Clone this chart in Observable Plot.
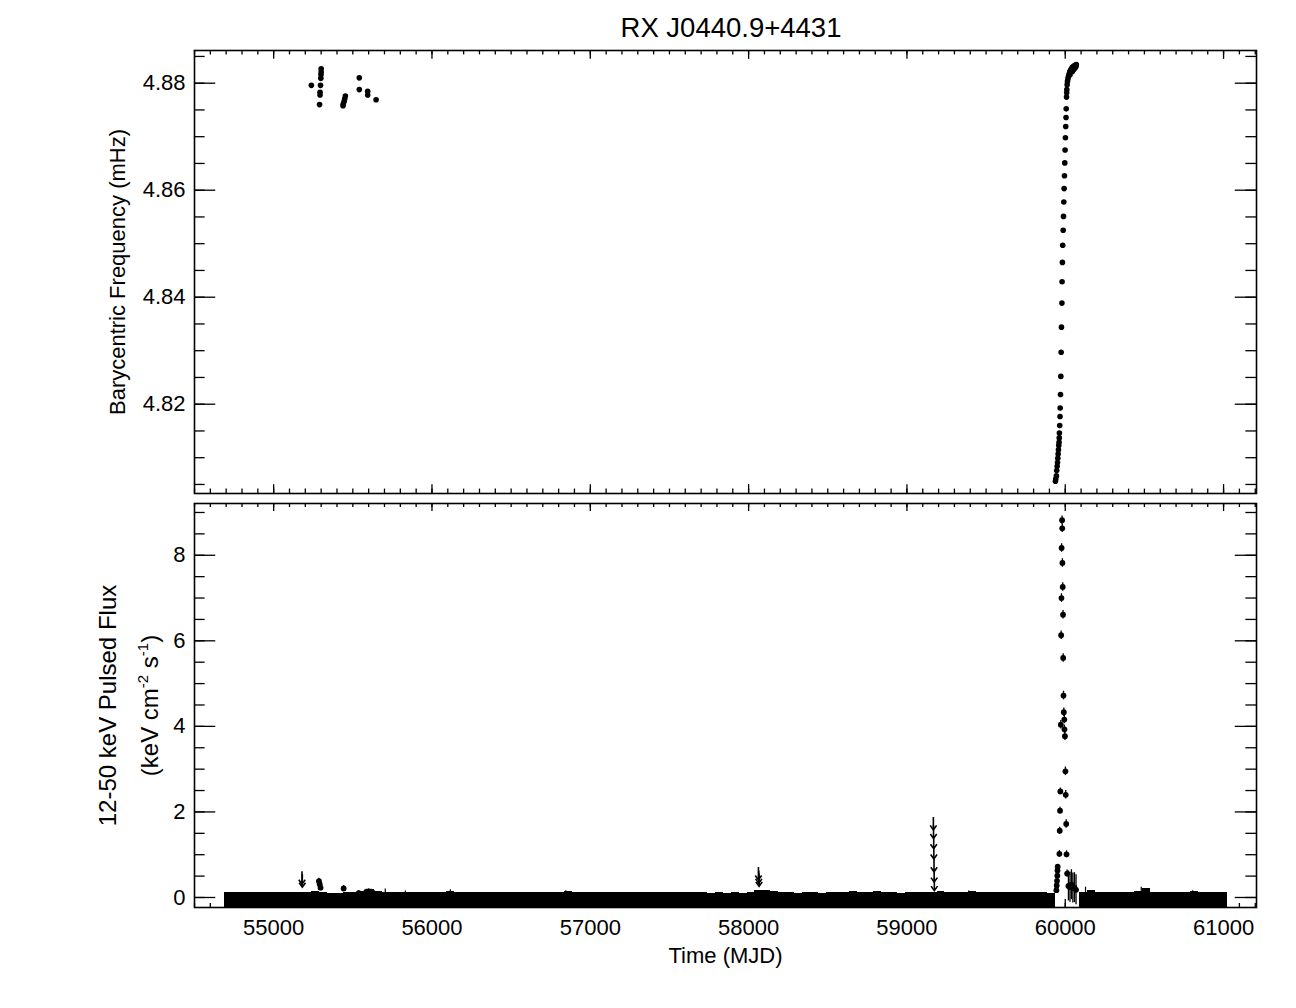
<!DOCTYPE html>
<html><head><meta charset="utf-8">
<script src="https://cdn.jsdelivr.net/npm/d3@7"></script>
<script src="https://cdn.jsdelivr.net/npm/@observablehq/plot@0.6"></script>
<style>
html,body{margin:0;padding:0;background:#fff;}
#wrap{position:relative;width:1296px;height:1008px;font-family:"Liberation Sans",Arial,Helvetica,sans-serif;}
#title{position:absolute;left:200px;width:1062px;top:28px;transform:translateY(-50%);text-align:center;font-size:27.5px;color:#000;line-height:1;}
#top,#bot{position:absolute;left:0;}
#top{top:48px;} #bot{top:501px;}
</style></head><body>
<div id="wrap"><div id="title">RX J0440.9+4431</div><div id="top"></div><div id="bot"></div></div>
<script>
// ---------- DATA ----------
const title = "RX J0440.9+4431";
const mjdTicks = [55000, 56000, 57000, 58000, 59000, 60000, 61000];
const freqTicks = [4.82, 4.84, 4.86, 4.88];
const fluxTicks = [0, 2, 4, 6, 8];

// Barycentric frequency (mHz)
const freqMJD = [55238, 55300, 55300, 55299, 55298, 55296, 55293, 55293, 55290,
  55453, 55449, 55445, 55440, 55438, 55541, 55541, 55594, 55594, 55647,
  59938, 59940, 59944, 59946, 59949, 59951, 59953, 59955, 59957, 59959,
  59961, 59962, 59963, 59965, 59967, 59968, 59970, 59972, 59974, 59976,
  59979, 59980, 59982, 59984, 59987, 59989, 59991, 59993, 59995, 59997,
  59999, 60001, 60003, 60005, 60006, 60008, 60009, 60010, 60012,
  60014, 60017, 60020, 60023, 60026, 60029, 60032, 60036, 60040, 60044,
  60048, 60052, 60056, 60060, 60065, 60070, 60030, 60045, 60055, 60062, 60068];
const freqMHz = [4.8796, 4.8827, 4.8821, 4.8816, 4.8809, 4.8796, 4.8783, 4.8778, 4.8760,
  4.8776, 4.8771, 4.8766, 4.8761, 4.8758, 4.8810, 4.8788, 4.8785, 4.8778, 4.8769,
  4.8056, 4.8060, 4.8066, 4.8076, 4.8084, 4.8091, 4.8099, 4.8107, 4.8115, 4.8123,
  4.8129, 4.8137, 4.8146, 4.8160, 4.8177, 4.8193, 4.8218, 4.8252, 4.8297, 4.8344,
  4.8389, 4.8429, 4.8465, 4.8497, 4.8525, 4.8551, 4.8578, 4.8603, 4.8627, 4.8651,
  4.8675, 4.8698, 4.8719, 4.8736, 4.8752, 4.8774, 4.8782, 4.8788, 4.8797,
  4.8803, 4.8808, 4.8812, 4.8815, 4.8818, 4.8821, 4.8823, 4.8825, 4.8827, 4.8829,
  4.8830, 4.8831, 4.8832, 4.8833, 4.8834, 4.8835, 4.8816, 4.8822, 4.8826, 4.8829, 4.8831];

// 12-50 keV pulsed flux detections
const fluxMJD = [55286, 55291, 55296, 55442, 55537, 55585, 55600, 55615, 55628,
  59944, 59946, 59948, 59950, 59951, 59952, 59963, 59965, 59967, 59969,
  59972, 59974, 59976, 59977, 59980, 59981, 59982, 59984, 59986, 59987,
  59989, 59991, 59994, 59995, 59998, 60001, 60003, 60006, 60008, 60012,
  60020, 60030, 60039, 60048, 60058, 60068];
const fluxVal = [0.38, 0.31, 0.23, 0.21, 0.10, 0.13, 0.14, 0.13, 0.11,
  0.17, 0.28, 0.39, 0.51, 0.63, 0.72, 1.02, 1.56, 2.03, 2.48,
  4.04, 6.13, 7.00, 8.17, 8.82, 8.63, 7.82, 7.26, 6.61, 5.60,
  4.72, 4.33, 4.16, 3.93, 3.77, 2.95, 2.40, 1.72, 1.01, 0.56,
  0.27, 0.24, 0.30, 0.22, 0.23, 0.18];
const fluxErr = [0.07, 0.07, 0.07, 0.07, 0.06, 0.06, 0.06, 0.06, 0.06,
  0.05, 0.05, 0.05, 0.05, 0.05, 0.05, 0.08, 0.08, 0.08, 0.08,
  0.10, 0.10, 0.10, 0.10, 0.10, 0.10, 0.10, 0.10, 0.10, 0.10,
  0.10, 0.10, 0.10, 0.10, 0.10, 0.10, 0.10, 0.10, 0.08, 0.08,
  0.35, 0.35, 0.35, 0.35, 0.35, 0.35];

// Upper limits (arrows)
const ulMJD = [55179, 55181, 58062, 58064, 58066, 59167, 59168, 59169, 59170, 59171, 59172, 59173];
const ulFlux = [0.60, 0.53, 0.70, 0.62, 0.55, 1.87, 1.67, 1.43, 1.19, 0.89, 0.65, 0.45];

// Dense daily band of non-detections: upper envelope per 50-day bin (null = no band)
const bandStart = d3.range(54690, 61000, 50);
const bandEnd = 61027;
const bandTop = [
  0.11,0.12,0.11,0.12,0.11,0.12,0.11,0.12,0.11,0.12, // 54690
  0.12,0.14,0.12,0.10,0.10,0.11,0.11,0.14,0.18,0.15, // 55190
  0.12,0.11,0.11,0.12,0.11,0.12,0.11,0.12,0.13,0.11, // 55690
  0.12,0.11,0.11,0.12,0.11,0.12,0.11,0.11,0.12,0.11, // 56190
  0.12,0.11,0.12,0.13,0.11,0.11,0.12,0.11,0.12,0.11, // 56690
  0.11,0.12,0.11,0.12,0.11,0.11,0.12,0.11,0.12,0.11, // 57190
  0.11,0.10,0.11,0.10,0.11,0.10,0.11,0.16,0.17,0.13, // 57690
  0.11,0.11,0.10,0.11,0.11,0.10,0.11,0.11,0.12,0.13, // 58190
  0.11,0.11,0.13,0.11,0.11,0.10,0.11,0.11,0.11,0.12, // 58690
  0.14,0.11,0.11,0.11,0.13,0.11,0.11,0.12,0.11,0.11, // 59190
  0.12,0.11,0.11,0.12,0.09,null,null,null,0.12,0.16, // 59690
  0.11,0.11,0.12,0.11,0.12,0.13,0.20,0.12,0.11,0.12, // 60190
  0.11,0.12,0.14,0.12,0.11,0.12,0.11                 // 60690
];
// isolated error-bar spikes rising above the band
const spikeMJD = [55705, 55832, 56116, 56845, 59390, 60128, 60480, 60805];
const spikeTop = [0.20, 0.15, 0.18, 0.16, 0.15, 0.24, 0.24, 0.16];

// ---------- LAYOUT ----------
const W = 1296, ML = 194, MR = 40;
const FW = W - ML - MR;
const xDomain = [54500, 61208];
const fDomain = [4.80331, 4.88611];
const pDomain = [-0.234, 9.21];
const FONT = "'Liberation Sans', Arial, Helvetica, sans-serif";
const ink = "#000";
const arrowLen = 0.29; // upper-limit arrow length in flux units

const xMinor = d3.range(545, 613).map(i => i * 100);
const fMinor = d3.range(961, 978).map(i => +(i * 0.005).toFixed(3));
const pMinor = d3.range(0, 19).map(i => i * 0.5);

// downward "V" arrowhead symbol (tip at origin)
const vHead = {draw(ctx) { ctx.moveTo(-3.2, -4.5); ctx.lineTo(0, 0); ctx.lineTo(3.2, -4.5); }};

function frameTicks(H, yMajor, yMinor) {
  const yl = 0.02 * FW, xl = 0.02 * H, sw = 1.3;
  return [
    Plot.tickY(yMinor, {y: d => d, insetRight: FW - yl / 2, stroke: ink, strokeWidth: sw}),
    Plot.tickY(yMajor, {y: d => d, insetRight: FW - yl, stroke: ink, strokeWidth: sw}),
    Plot.tickY(yMinor, {y: d => d, insetLeft: FW - yl / 2, stroke: ink, strokeWidth: sw}),
    Plot.tickY(yMajor, {y: d => d, insetLeft: FW - yl, stroke: ink, strokeWidth: sw}),
    Plot.tickX(xMinor, {x: d => d, insetBottom: H - xl / 2, stroke: ink, strokeWidth: sw}),
    Plot.tickX(mjdTicks, {x: d => d, insetBottom: H - xl, stroke: ink, strokeWidth: sw}),
    Plot.tickX(xMinor, {x: d => d, insetTop: H - xl / 2, stroke: ink, strokeWidth: sw}),
    Plot.tickX(mjdTicks, {x: d => d, insetTop: H - xl, stroke: ink, strokeWidth: sw})
  ];
}

const labelOpts = {text: d => d, frameAnchor: "left", rotate: -90, textAnchor: "middle", lineAnchor: "middle", fontSize: 22, fill: ink};

// ---------- TOP PANEL ----------
const freqData = freqMJD.map((m, i) => ({m, f: freqMHz[i]}));
const topH = 443;
const topPlot = Plot.plot({
  width: W, height: topH + 4, marginTop: 2, marginBottom: 2, marginLeft: ML, marginRight: MR,
  style: {fontFamily: FONT, fontSize: "22px", color: ink, background: "transparent", overflow: "visible"},
  x: {domain: xDomain, axis: null},
  y: {domain: fDomain, axis: null},
  marks: [
    Plot.dot(freqData, {x: "m", y: "f", r: 2.8, fill: ink, stroke: null}),
    ...frameTicks(topH, freqTicks, fMinor),
    Plot.axisY(freqTicks, {tickSize: 0, tickPadding: 9, tickFormat: d3.format(".2f"), label: null, fontSize: 22}),
    Plot.text(["Barycentric Frequency (mHz)"], {...labelOpts, dx: -77}),
    Plot.frame({stroke: ink, strokeWidth: 1.6})
  ]
});
document.getElementById("top").appendChild(topPlot);

// ---------- BOTTOM PANEL ----------
const botH = 404;
const bandData = bandStart.map((m, i) => ({m1: m, m2: i + 1 < bandStart.length ? bandStart[i + 1] : bandEnd, top: bandTop[i]}))
  .filter(d => d.top != null);
const fluxData = fluxMJD.map((m, i) => ({m, v: fluxVal[i], e: fluxErr[i]}));
const ulData = ulMJD.map((m, i) => ({m, u: ulFlux[i]}));
const spikeData = spikeMJD.map((m, i) => ({m, t: spikeTop[i]}));

const botPlot = Plot.plot({
  width: W, height: 507, marginTop: 2, marginBottom: 101, marginLeft: ML, marginRight: MR,
  style: {fontFamily: FONT, fontSize: "22px", color: ink, background: "transparent", overflow: "visible"},
  x: {domain: xDomain, axis: null},
  y: {domain: pDomain, axis: null},
  marks: [
    Plot.rect(bandData, {x1: "m1", x2: "m2", y1: pDomain[0], y2: "top", fill: ink, shapeRendering: "crispEdges"}),
    Plot.ruleX(spikeData, {x: "m", y1: pDomain[0], y2: "t", stroke: ink, strokeWidth: 1.2}),
    Plot.ruleX(fluxData, {x: "m", y1: d => d.v - d.e, y2: d => d.v + d.e, stroke: ink, strokeWidth: 1.3, clip: true}),
    Plot.dot(fluxData, {x: "m", y: "v", r: 2.9, fill: ink, stroke: null}),
    Plot.ruleX(ulData, {x: "m", y1: "u", y2: d => d.u - arrowLen, stroke: ink, strokeWidth: 1.6}),
    Plot.dot(ulData, {x: "m", y: d => d.u - arrowLen, symbol: vHead, r: 3, fill: "none", stroke: ink, strokeWidth: 1.6}),
    ...frameTicks(botH, fluxTicks, pMinor),
    Plot.axisY(fluxTicks, {tickSize: 0, tickPadding: 9, tickFormat: d3.format("d"), label: null, fontSize: 22}),
    Plot.axisX(mjdTicks, {tickSize: 0, tickPadding: 12, tickFormat: d => String(d), label: null, fontSize: 22}),
    Plot.text(["12-50 keV Pulsed Flux"], {...labelOpts, fontSize: 24, dx: -86}),
    Plot.text(["(keV cm-2 s-1)"], {...labelOpts, fontSize: 24, dx: -44}),
    Plot.text(["Time (MJD)"], {text: d => d, frameAnchor: "bottom", dy: 48, textAnchor: "middle", lineAnchor: "middle", fontSize: 22, fill: ink}),
    Plot.frame({stroke: ink, strokeWidth: 1.6})
  ]
});
d3.select(botPlot).selectAll("text").filter(function () { return this.textContent === "(keV cm-2 s-1)"; }).each(function () {
  const t = d3.select(this);
  t.text(null);
  t.append("tspan").text("(keV cm");
  t.append("tspan").attr("dy", -10).attr("font-size", 15).text("-2");
  t.append("tspan").attr("dy", 10).text(" s");
  t.append("tspan").attr("dy", -10).attr("font-size", 15).text("-1");
  t.append("tspan").attr("dy", 10).text(")");
});
document.getElementById("bot").appendChild(botPlot);
document.getElementById("title").textContent = title;
</script>
</body></html>
